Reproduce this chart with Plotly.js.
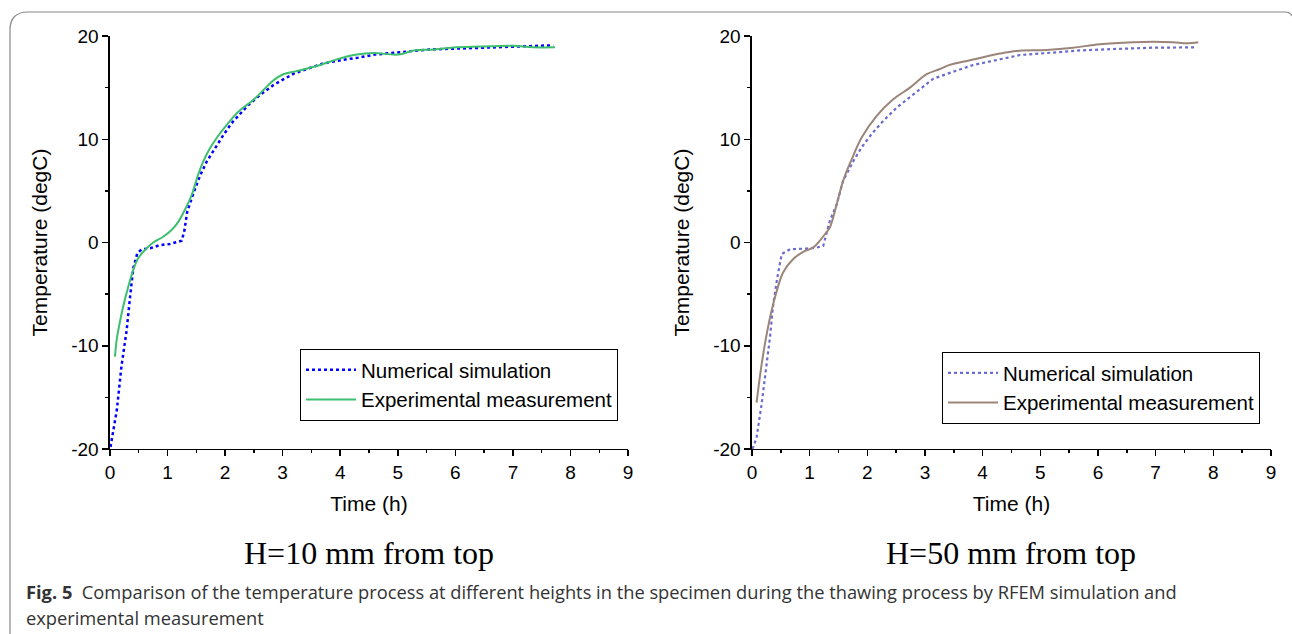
<!DOCTYPE html>
<html>
<head>
<meta charset="utf-8">
<script src="https://cdn.plot.ly/plotly-3.0.1.min.js"></script>
<style>
html,body{margin:0;padding:0;background:#fff;}
#chart{width:1292px;height:634px;}
</style>
</head>
<body>
<div id="chart"></div>
<script>
// H = 10 mm, numerical simulation
const simT10 = [0.01,0.12,0.2,0.29,0.35,0.405,0.475,0.55,0.7,0.87,1.04,1.245,1.29,1.343,1.45,1.56,1.68,1.82,1.97,2.11,2.26,2.4,2.61,2.84,2.98,3.21,3.47,3.71,4.05,4.31,4.6,5.04,5.56,6.14,6.72,7.35,7.7];
const simV10 = [-19.8,-16.2,-12.0,-8.5,-5.25,-2.5,-1.05,-0.66,-0.56,-0.25,-0.15,0.17,1.05,3.0,4.77,6.4,7.83,9.1,10.4,11.54,12.5,13.3,14.3,15.25,15.7,16.4,16.9,17.35,17.7,17.9,18.2,18.45,18.7,18.8,18.9,19.0,19.1];
// H = 10 mm, experimental measurement
const expT10 = [0.087,0.116,0.145,0.23,0.318,0.405,0.49,0.607,0.752,0.925,1.07,1.187,1.3,1.42,1.53,1.62,1.737,1.85,2.05,2.23,2.49,2.69,2.84,3.01,3.24,3.65,3.94,4.29,4.58,5.01,5.28,5.63,6.02,6.61,7.0,7.35,7.73];
const expV10 = [-11.06,-9.45,-8.5,-6.2,-4.28,-2.66,-1.53,-0.73,0.0,0.56,1.21,2.0,3.15,4.6,6.54,7.83,9.12,10.1,11.54,12.67,13.8,14.9,15.7,16.3,16.6,17.2,17.74,18.2,18.35,18.2,18.6,18.7,18.9,19.0,19.06,18.9,18.9];
// H = 50 mm, numerical simulation
const simT50 = [0.01,0.08,0.168,0.243,0.312,0.37,0.44,0.515,0.66,0.948,1.12,1.236,1.295,1.35,1.47,1.58,1.76,1.9,2.075,2.28,2.51,2.8,3.14,3.49,3.84,4.18,4.65,5.11,5.69,6.27,6.96,7.68];
const simV50 = [-20.0,-18.9,-15.65,-12.4,-9.2,-5.97,-3.4,-1.13,-0.65,-0.59,-0.49,-0.33,0.8,2.1,3.7,5.96,7.9,9.2,10.5,11.8,13.06,14.35,15.85,16.54,17.2,17.6,18.16,18.35,18.6,18.74,18.87,18.9];
// H = 50 mm, experimental measurement
const expT50 = [0.08,0.168,0.255,0.34,0.43,0.54,0.716,0.89,1.06,1.15,1.266,1.35,1.47,1.58,1.73,1.9,2.16,2.45,2.74,3.03,3.26,3.43,3.78,4.3,4.59,5.11,5.57,6.03,6.61,6.96,7.3,7.54,7.74];
const expV50 = [-15.5,-11.8,-8.9,-6.6,-4.7,-2.9,-1.6,-0.9,-0.5,0.0,0.8,1.45,3.7,5.96,8.06,10.15,12.25,13.87,15.0,16.3,16.8,17.2,17.65,18.3,18.55,18.65,18.87,19.2,19.4,19.45,19.4,19.3,19.4];

const xTicks = [0,1,2,3,4,5,6,7,8,9];
const yTicks = [-20,-10,0,10,20];
const yTickText = ['-20','-10','0','10','20'];
const names = ['Numerical simulation','Experimental measurement'];
const subtitles = ['H=10 mm from top','H=50 mm from top'];
const xTitle = 'Time (h)';
const yTitle = 'Temperature (degC)';
const caption1 = '<b>Fig. 5</b>  Comparison of the temperature process at different heights in the specimen during the thawing process by RFEM simulation and';
const caption2 = 'experimental measurement';

const traces = [
  {x:simT10,y:simV10,name:names[0],mode:'lines',line:{color:'#0000ff',width:2.5,dash:'dot'},xaxis:'x',yaxis:'y',legend:'legend'},
  {x:expT10,y:expV10,name:names[1],mode:'lines',line:{color:'#3dbf6e',width:2,shape:'spline'},xaxis:'x',yaxis:'y',legend:'legend'},
  {x:simT50,y:simV50,name:names[0],mode:'lines',line:{color:'#6a6acf',width:2.2,dash:'dot'},xaxis:'x2',yaxis:'y2',legend:'legend2'},
  {x:expT50,y:expV50,name:names[1],mode:'lines',line:{color:'#9b857a',width:2,shape:'spline'},xaxis:'x2',yaxis:'y2',legend:'legend2'}
];

const FONT = 'Arial, Liberation Sans';
function xa(dom){
  return {domain:dom,range:[0,9],tickvals:xTicks,ticks:'outside',ticklen:6,tickwidth:1.5,tickcolor:'#000',
    showline:true,linecolor:'#000',linewidth:1.5,showgrid:false,zeroline:false,
    tickfont:{family:FONT,size:19,color:'#000'},
    minor:{dtick:0.5,tick0:0,ticks:'outside',ticklen:3,tickwidth:1.5,tickcolor:'#000',showgrid:false},
    title:{text:xTitle,font:{family:FONT,size:21,color:'#000'},standoff:14}};
}
function ya(anchor){
  return {domain:[0.2918,0.9432],range:[-20,20],tickvals:yTicks,ticktext:yTickText,ticks:'outside',ticklen:6,tickwidth:1.5,tickcolor:'#000',
    showline:true,linecolor:'#000',linewidth:1.5,showgrid:false,zeroline:false,anchor:anchor,
    tickfont:{family:FONT,size:19,color:'#000'},
    minor:{dtick:5,tick0:0,ticks:'outside',ticklen:3,tickwidth:1.5,tickcolor:'#000',showgrid:false},
    title:{text:yTitle,font:{family:FONT,size:21,color:'#000'},standoff:18}};
}
const legStyle = {font:{family:FONT,size:20.5,color:'#000'},bordercolor:'#000',borderwidth:1,bgcolor:'rgba(255,255,255,0)',xanchor:'left',yanchor:'top',tracegroupgap:0,itemwidth:50};

const layout = {
  width:1292,height:634,margin:{l:0,r:0,t:0,b:0},
  paper_bgcolor:'#fff',plot_bgcolor:'#fff',
  xaxis:Object.assign(xa([0.0851,0.4861]),{anchor:'y'}),
  yaxis:ya('x'),
  xaxis2:Object.assign(xa([0.5820,0.9837]),{anchor:'y2'}),
  yaxis2:ya('x2'),
  legend:Object.assign({x:0.2322,y:0.4495},legStyle),
  legend2:Object.assign({x:0.7291,y:0.4448},legStyle),
  annotations:[
    {text:subtitles[0],xref:'paper',yref:'paper',x:369/1292,y:1-553/634,showarrow:false,xanchor:'center',yanchor:'middle',font:{family:'Liberation Serif, Times New Roman',size:32,color:'#000'}},
    {text:subtitles[1],xref:'paper',yref:'paper',x:1011/1292,y:1-553/634,showarrow:false,xanchor:'center',yanchor:'middle',font:{family:'Liberation Serif, Times New Roman',size:32,color:'#000'}},
    {text:caption1,xref:'paper',yref:'paper',x:24/1292,y:1-591/634,showarrow:false,xanchor:'left',yanchor:'middle',font:{family:'Open Sans',size:18.3,color:'#333'}},
    {text:caption2,xref:'paper',yref:'paper',x:24/1292,y:1-617/634,showarrow:false,xanchor:'left',yanchor:'middle',font:{family:'Open Sans',size:18.3,color:'#333'}}
  ]
};
(function(){
  const W=1292,H=634;
  const px=v=>v/W, py=v=>1-v/H;
  layout.shapes = [
    {type:'line',xref:'paper',yref:'paper',x0:px(10),x1:px(10),y0:py(30),y1:py(634),line:{color:'#888',width:1.2}},
    {type:'line',xref:'paper',yref:'paper',x0:px(28),x1:px(1285),y0:py(12),y1:py(12),line:{color:'#888',width:1.2}},
    {type:'path',xref:'paper',yref:'paper',path:`M ${px(10)} ${py(30)} Q ${px(10)} ${py(12)} ${px(28)} ${py(12)}`,line:{color:'#888',width:1.2}},
    {type:'path',xref:'paper',yref:'paper',path:`M ${px(1285)} ${py(12)} Q ${px(1290)} ${py(12)} ${px(1292)} ${py(16)}`,line:{color:'#888',width:1.2}}
  ];
})();

Plotly.newPlot('chart',traces,layout,{displayModeBar:false,staticPlot:true});
</script>
</body>
</html>
